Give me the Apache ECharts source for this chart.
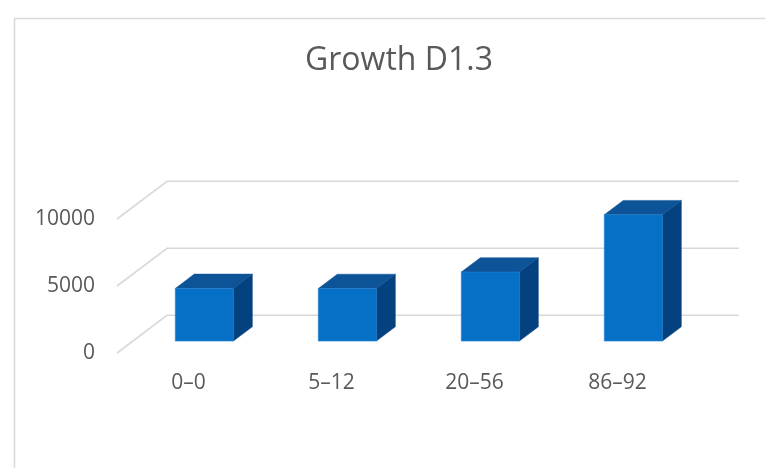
<!DOCTYPE html>
<html>
<head>
<meta charset="utf-8">
<script src="https://cdn.jsdelivr.net/npm/echarts@6/dist/echarts.min.js"></script>
<style>
html,body{margin:0;padding:0;background:#fff;}
#chart{width:765px;height:468px;}
</style>
</head>
<body>
<div id="chart"></div>
<script>
const categories = ['0–0', '5–12', '20–56', '86–92'];
const values = [3930, 3920, 5150, 9430];
const yTicks = [0, 5000, 10000];
const titleText = 'Growth D1.3';

const FONT = '"Open Sans", "Noto Sans", sans-serif';
const DEPTH_X = 50, DEPTH_Y = -37.7;   // oblique depth of the floor
const F1 = 0.316, F2 = 0.696;           // bar front / back depth fractions
const BAR_W = 0.406;                    // bar width as fraction of band

const chart = echarts.init(document.getElementById('chart'), null, {renderer: 'canvas'});

function renderWalls(params, api) {
  const cs = params.coordSys;
  const y = api.coord([0, api.value(1)])[1];
  const x0 = cs.x, x1 = cs.x + cs.width;
  return {
    type: 'polyline',
    shape: {points: [[x0, y], [x0 + DEPTH_X, y + DEPTH_Y], [x1 + DEPTH_X, y + DEPTH_Y]]},
    style: {stroke: '#d9d9d9', lineWidth: 1.6, fill: null},
    silent: true
  };
}

function renderBar(params, api) {
  const i = api.value(0);
  const base = api.coord([i, 0]);
  const top = api.coord([i, api.value(1)]);
  const band = api.size([1, 0])[0];
  const w = band * BAR_W;
  const ox = DEPTH_X * F1, oy = DEPTH_Y * F1;
  const bx = DEPTH_X * (F2 - F1), by = DEPTH_Y * (F2 - F1);
  const L = base[0] + ox - w / 2, R = base[0] + ox + w / 2;
  const B = base[1] + oy, T = top[1] + oy;
  return {
    type: 'group',
    children: [
      {type: 'polygon', shape: {points: [[R, B], [R + bx, B + by], [R + bx, T + by], [R, T]]},
       style: {fill: '#03417f', stroke: '#03417f', lineWidth: 0.5}},
      {type: 'polygon', shape: {points: [[L, T], [R, T], [R + bx, T + by], [L + bx, T + by]]},
       style: {fill: '#0c5397', stroke: '#0c5397', lineWidth: 0.5}},
      {type: 'rect', shape: {x: L, y: T, width: w, height: B - T},
       style: {fill: '#0570c6', stroke: '#2a7fd0', lineWidth: 0.6}}
    ]
  };
}

chart.setOption({
  backgroundColor: '#ffffff',
  animation: false,
  title: {
    text: titleText,
    left: 394,
    top: 40,
    textAlign: 'center',
    textStyle: {fontFamily: FONT, fontSize: 32, fontWeight: 'normal', color: '#595959'}
  },
  graphic: [{
    type: 'rect', left: 12, top: 16,
    shape: {width: 800, height: 500},
    style: {fill: null, stroke: '#d9d9d9', lineWidth: 1.6},
    silent: true
  }],
  grid: {left: 117, right: 76, top: 219, bottom: 115, containLabel: false},
  xAxis: {
    type: 'category',
    data: categories,
    axisLine: {show: false},
    axisTick: {show: false},
    splitLine: {show: false},
    axisLabel: {color: '#595959', fontFamily: FONT, fontSize: 21, margin: 20}
  },
  yAxis: {
    type: 'value',
    min: 0, max: 10000, interval: 5000,
    axisLine: {show: false},
    axisTick: {show: false},
    splitLine: {show: false},
    axisLabel: {color: '#595959', fontFamily: FONT, fontSize: 21, margin: 22,
      formatter: v => String(v)}
  },
  series: [
    {
      type: 'custom',
      renderItem: renderWalls,
      data: yTicks.map(v => [0, v]),
      z: 1, silent: true
    },
    {
      type: 'custom',
      renderItem: renderBar,
      data: values.map((v, i) => [i, v]),
      z: 2
    }
  ]
});
</script>
</body>
</html>
